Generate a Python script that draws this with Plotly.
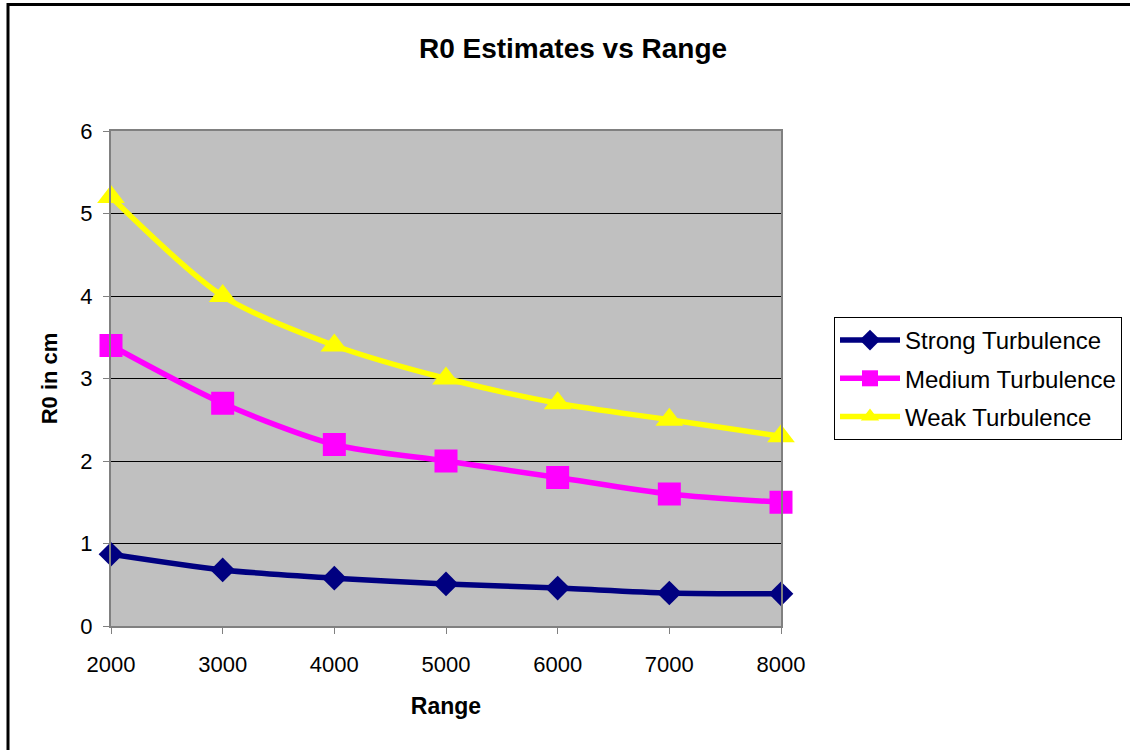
import plotly.graph_objects as go

ranges = [2000, 3000, 4000, 5000, 6000, 7000, 8000]
strong = [0.87, 0.68, 0.58, 0.51, 0.46, 0.40, 0.39]
medium = [3.4, 2.7, 2.2, 2.0, 1.8, 1.6, 1.5]
weak = [5.2, 4.0, 3.4, 3.0, 2.7, 2.5, 2.3]
series_names = ["Strong Turbulence", "Medium Turbulence", "Weak Turbulence"]

FONT = "Liberation Sans, Arial, sans-serif"

fig = go.Figure()
specs = [
    (strong, "#000080", "diamond", 19),
    (medium, "#FF00FF", "square", 23),
    (weak, "#FFFF00", "triangle-up", 24),
]
for name, (vals, color, sym, sz) in zip(series_names, specs):
    fig.add_trace(go.Scatter(
        x=ranges, y=vals, name=name, mode="lines+markers",
        line=dict(color=color, width=5.5, shape="spline", smoothing=0.8),
        marker=dict(color=color, symbol=sym, size=sz, line=dict(width=0)),
        legendgroup=name, cliponaxis=False,
    ))

L, R, T, B = 111, 349, 131, 124
PW, PH = 1130 - L - R, 750 - T - B

def px(x):
    return (x - L) / PW

def py(y):
    return (750 - B - y) / PH

fig.add_shape(type="rect", xref="paper", yref="paper",
              x0=px(8), y0=py(800), x1=px(1200), y1=py(4.5),
              line=dict(color="black", width=3), fillcolor="rgba(0,0,0,0)",
              layer="below")

fig.update_layout(
    width=1130, height=750,
    margin=dict(l=L, r=R, t=T, b=B, pad=0, autoexpand=False),
    paper_bgcolor="white",
    plot_bgcolor="#C0C0C0",
    font=dict(family=FONT, size=22, color="black"),
    title=dict(text="<b>R0 Estimates vs Range</b>", x=573 / 1130, xanchor="center",
               y=1 - 48 / 750, yanchor="middle",
               font=dict(family=FONT, size=28, color="black")),
    showlegend=True,
    legend=dict(x=px(834), y=py(317), xanchor="left", yanchor="top",
                bgcolor="white", bordercolor="black", borderwidth=1,
                font=dict(family=FONT, size=24, color="black"),
                tracegroupgap=4, itemwidth=60),
    xaxis=dict(range=[2000, 8000], tickmode="array", tickvals=ranges,
               ticktext=[str(r) for r in ranges],
               showgrid=False, zeroline=False, automargin=False,
               showline=True, linecolor="#808080", linewidth=2, mirror=True,
               ticks="outside", ticklen=6, tickcolor="#808080", tickwidth=1,
               ticklabelstandoff=12,
               title=dict(text="<b>Range</b>", font=dict(family=FONT, size=23), standoff=21),
               tickfont=dict(family=FONT, size=22)),
    yaxis=dict(range=[0, 6], tickmode="linear", tick0=0, dtick=1,
               showgrid=True, gridcolor="black", gridwidth=1, zeroline=False,
               automargin=False,
               showline=True, linecolor="#808080", linewidth=2, mirror=True,
               ticks="outside", ticklen=6, tickcolor="#808080", tickwidth=1,
               ticklabelstandoff=6,
               title=dict(text="<b>R0 in cm</b>", font=dict(family=FONT, size=22), standoff=17),
               tickfont=dict(family=FONT, size=22)),
)

fig.write_html("out.html")
